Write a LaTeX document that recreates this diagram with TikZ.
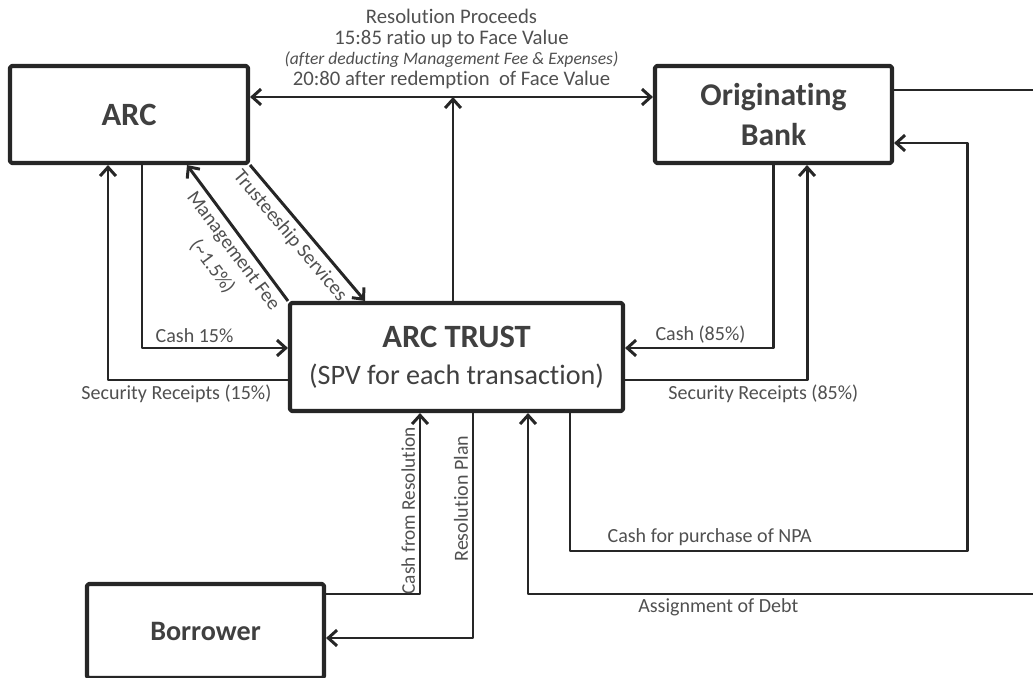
\documentclass[tikz,border=0pt]{standalone}
\usepackage{fontspec}
\setmainfont{Carlito}[Ligatures={CommonOff}]
\usetikzlibrary{positioning}
\usetikzlibrary{arrows.meta}
\definecolor{linegray}{HTML}{262626}
\definecolor{textgray}{HTML}{404040}
\definecolor{labelgray}{HTML}{505050}

\begin{document}
\begin{tikzpicture}[x=0.2mm, y=-0.2mm, linegray, line width=1.7pt, line join=round,
    box/.style = {draw, line width=2.3pt, rounded corners=1pt, fill=white, text=textgray,
                  align=center, font=\fontsize{18}{23}\selectfont\bfseries},
    flow/.style = {-{Straight Barb[length=5pt,width=9pt]}},
    lbl/.style = {text=labelgray, font=\fontsize{11.4}{13}\selectfont, inner sep=2pt},
]

    \clip (0,0) rectangle (1033,678);

    % the four parties
    \node (ARC) at (129,114.5) [box, minimum width=47.6mm, minimum height=19.4mm, font=\fontsize{18.5}{23}\selectfont\bfseries] {ARC};
    \node (Bank) at (773.5,114.5) [box, minimum width=47.4mm, minimum height=19.4mm] {Originating\\Bank};
    \node (Trust) at (456.5,357) [box, minimum width=66.6mm, minimum height=21.6mm, font=\fontsize{18.5}{21}\selectfont\bfseries]
        {ARC TRUST\\{\fontsize{16}{21}\selectfont\mdseries (SPV for each transaction)}};
    \node (Borrower) at (205.5,631) [box, minimum width=47.4mm, minimum height=18.8mm, font=\fontsize{16}{20}\selectfont\bfseries] {Borrower};

    % bends
    \coordinate (proc) at (453,97);
    \coordinate (mfee) at (187,0);
    \coordinate (trsv) at (365,0);
    \coordinate (cashL) at (142,348);
    \coordinate (srL) at (108,380);
    \coordinate (cashR) at (773,348);
    \coordinate (srR) at (807,380);
    \coordinate (npaA) at (570,551);
    \coordinate (npaB) at (967,143);
    \coordinate (debtA) at (1045,90);
    \coordinate (debtB) at (528,594);
    \coordinate (cfr) at (420,594);
    \coordinate (rplan) at (473,638);

    \draw[{Straight Barb[length=5pt,width=9pt]}-{Straight Barb[length=5pt,width=9pt]}] (ARC.east |- proc) -- (Bank.west |- proc)
        node [midway, above, lbl, align=center, font=\fontsize{11.8}{11.6}\selectfont, inner sep=4pt]
        {Resolution Proceeds\\15:85 ratio up to Face Value\\{\fontsize{10}{11.6}\selectfont\itshape (after deducting Management Fee \& Expenses)}\\20:80 after redemption\ \ of Face Value};
    \draw[flow] (Trust.north -| proc) -- (proc);

    \draw[flow] (Trust.north west) -- (ARC.south -| mfee)
        node [pos=0.43, sloped, below, lbl, align=center, inner sep=3pt, font=\fontsize{11.4}{15}\selectfont] {Management Fee\\(\textasciitilde1.5\%)};
    \draw[flow] (ARC.south east) -- (Trust.north -| trsv)
        node [pos=0.45, sloped, below, lbl, inner sep=3pt] {Trusteeship Services};

    \draw[flow] (ARC.south -| cashL) |- (Trust.west |- cashL) node [pos=0.68, above, lbl] {Cash 15\%};
    \draw[flow] (Trust.west |- srL) -| (ARC.south -| srL) node [pos=0.31, below, lbl] {Security Receipts (15\%)};
    \draw[flow] (Bank.south -| cashR) |- (Trust.east |- cashR) node [pos=0.745, above, lbl] {Cash (85\%)};
    \draw[flow] (Trust.east |- srR) -| (Bank.south -| srR) node [pos=0.38, below, lbl] {Security Receipts (85\%)};

    \draw[flow] (Trust.south -| npaA) -- (npaA) -| (npaB) node [pos=0.176, above, lbl] {Cash for purchase of NPA}
        -- (Bank.east |- npaB);
    \draw[flow] (Bank.east |- debtA) -- (debtA) |- (debtB) node [pos=0.816, below, lbl] {Assignment of Debt}
        -- (Trust.south -| debtB);

    \draw[flow] (Borrower.east |- cfr) -| (Trust.south -| cfr)
        node [pos=0.73, rotate=90, anchor=south, lbl, font=\fontsize{11}{13}\selectfont] {Cash from Resolution};
    \draw[flow] (Trust.south -| rplan) |- (Borrower.east |- rplan)
        node [pos=0.19, rotate=90, anchor=south, lbl] {Resolution Plan};

\end{tikzpicture}
\end{document}
